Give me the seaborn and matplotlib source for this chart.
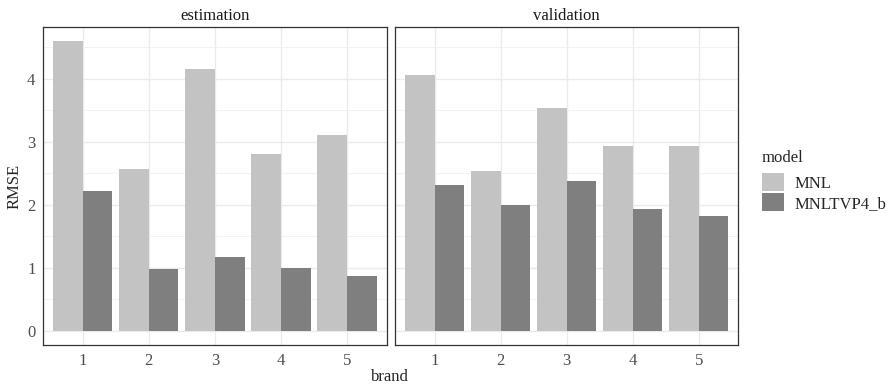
import numpy as np
import pandas as pd
import matplotlib
matplotlib.use("Agg")
import matplotlib.pyplot as plt
import seaborn as sns

# --- data ---
brands = ["1", "2", "3", "4", "5"]
models = ["MNL", "MNLTVP4_b"]
panels = ["estimation", "validation"]

est_mnl = [4.60, 2.57, 4.16, 2.80, 3.11]
est_tvp = [2.22, 0.98, 1.17, 1.00, 0.86]
val_mnl = [4.06, 2.54, 3.53, 2.94, 2.93]
val_tvp = [2.31, 1.99, 2.37, 1.93, 1.82]

fill_colors = ["#c3c3c3", "#7f7f7f"]

rows = []
for panel, series in zip(panels, [(est_mnl, est_tvp), (val_mnl, val_tvp)]):
    for model, vals in zip(models, series):
        for b, v in zip(brands, vals):
            rows.append({"panel": panel, "model": model, "brand": b, "RMSE": v})
df = pd.DataFrame(rows)

sns.set_style("white")
plt.rcParams["font.family"] = ["Liberation Serif", "DejaVu Serif"]
plt.rcParams["font.size"] = 12

W, H = 895, 386
fig = plt.figure(figsize=(W / 100, H / 100), dpi=100)

# panel positions in pixels (left, right, top, bottom)
boxes = [(43, 386.7, 26.7, 345), (395, 738.3, 26.7, 345)]

ymax = df["RMSE"].max()
ylo, yhi = -0.05 * ymax, ymax * 1.05

axes = []
for panel, (l, r, t, b) in zip(panels, boxes):
    ax = fig.add_axes([l / W, 1 - b / H, (r - l) / W, (b - t) / H])
    sub = df[df["panel"] == panel]
    sns.barplot(data=sub, x="brand", y="RMSE", hue="model", order=brands,
                hue_order=models, palette=fill_colors, saturation=1,
                width=0.9, linewidth=0, errorbar=None, ax=ax, zorder=2)
    ax.set_xlim(-0.6, len(brands) - 0.4)
    ax.set_ylim(ylo, yhi)
    ax.set_yticks([0, 1, 2, 3, 4])
    ax.set_yticks([0.5, 1.5, 2.5, 3.5, 4.5], minor=True)
    ax.grid(True, which="major", color="#ebebeb", linewidth=1.0, zorder=0)
    ax.grid(True, which="minor", axis="y", color="#f0f0f0", linewidth=0.6, zorder=0)
    ax.set_axisbelow(True)
    for s in ax.spines.values():
        s.set_color("#333333")
        s.set_linewidth(0.9)
    ax.tick_params(axis="both", which="major", length=2.5, width=0.7,
                   color="#333333", labelcolor="#4d4d4d", labelsize=12, pad=3)
    ax.tick_params(axis="y", which="minor", length=0)
    ax.set_xlabel("")
    ax.set_ylabel("")
    ax.set_title(panel, fontsize=12, color="#1a1a1a", pad=5)
    ax.get_legend().remove()
    axes.append(ax)

axes[1].tick_params(axis="y", labelleft=False, length=0)

fig.text(390 / W, 1 - 377 / H, "brand", ha="center", va="center", fontsize=12)
fig.text(15 / W, 1 - 186 / H, "RMSE", ha="center", va="center",
         rotation=90, fontsize=12)

# legend: title drawn separately so the gap to the keys matches
fig.text(762 / W, 1 - 158 / H, "model", ha="left", va="center", fontsize=12)
handles, labels = axes[0].get_legend_handles_labels()
fig.legend(handles, labels, loc="upper left",
           bbox_to_anchor=(762 / W, 1 - 173 / H), frameon=False,
           fontsize=12, handlelength=1.32, handleheight=1.32,
           labelspacing=0.08, handletextpad=0.66, borderpad=0,
           borderaxespad=0)

fig.savefig("out.png", dpi=100)
